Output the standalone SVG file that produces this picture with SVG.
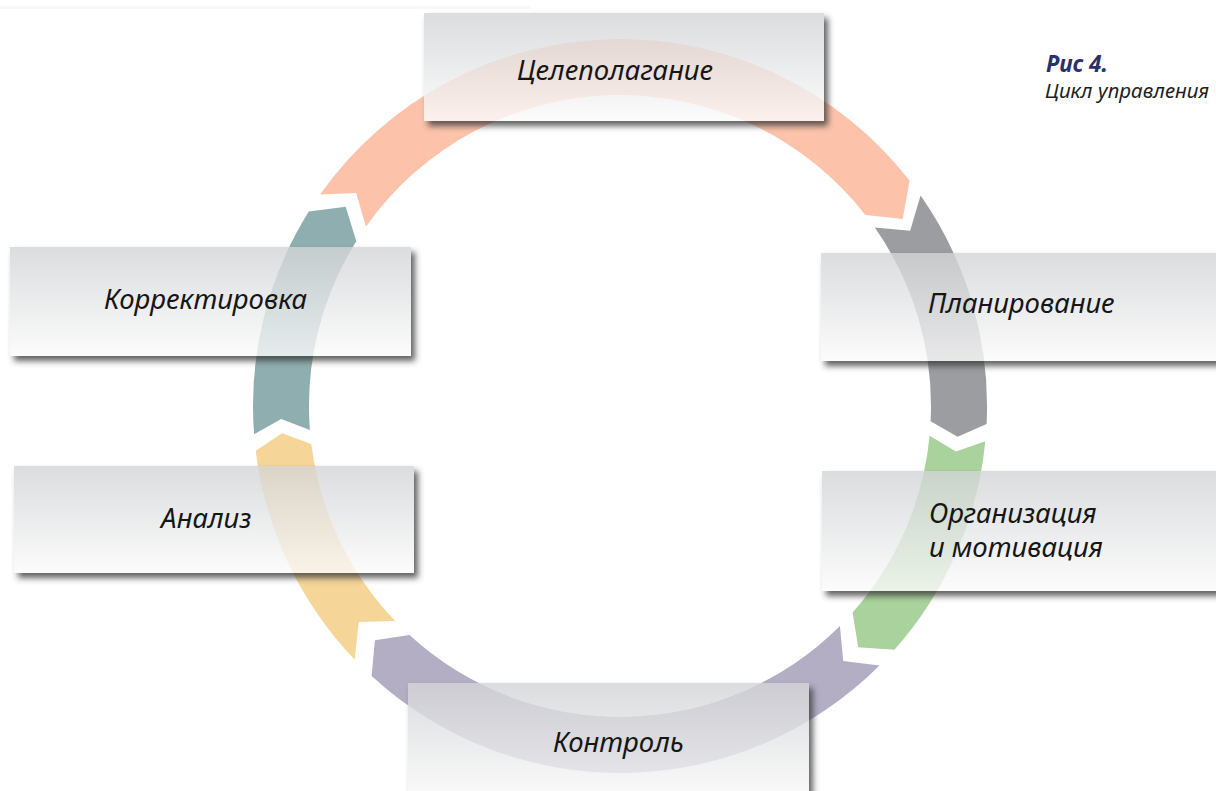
<svg xmlns="http://www.w3.org/2000/svg" width="1216" height="791" viewBox="0 0 1216 791">
  <defs>
    <linearGradient id="boxFill" x1="0" y1="0" x2="0" y2="1">
      <stop offset="0" stop-color="#D3D4D6"/>
      <stop offset="0.5" stop-color="#E6E7E8"/>
      <stop offset="1" stop-color="#FBFBFB"/>
    </linearGradient>
    <!-- shadow that stays outside the card so the translucent card is not darkened -->
    <filter id="outerShadow" x="-10%" y="-20%" width="120%" height="150%">
      <feGaussianBlur in="SourceAlpha" stdDeviation="3"/>
      <feOffset dx="4" dy="5" result="blur"/>
      <feFlood flood-color="#3a3a3a" flood-opacity="0.8"/>
      <feComposite in2="blur" operator="in" result="shadow"/>
      <feComposite in="shadow" in2="SourceAlpha" operator="out"/>
    </filter>
    <style>
      .seg { stroke: none; }
      .card { fill: url(#boxFill); fill-opacity: 0.8; }
      .cardShadow { fill: #000; filter: url(#outerShadow); }
      .label { font-family: "Noto Sans", "Open Sans", sans-serif; font-style: italic; font-size: 27.5px; fill: #161616; }
      .figNum { font-family: "Noto Sans", "Open Sans", sans-serif; font-style: italic; font-weight: bold; font-size: 22.5px; fill: #2D3068; }
      .figTitle { font-family: "Noto Sans", "Open Sans", sans-serif; font-style: italic; font-size: 20.5px; fill: #1e1e1e; }
    </style>
  </defs>

  <rect width="1216" height="791" fill="#FFFFFF"/>
  <rect x="0" y="6" width="530" height="3" fill="#EEEEEE" opacity="0.4"/>

  <!-- cycle ring: six arrow segments running clockwise -->
  <g id="connectors">
    <path id="arc-goal" class="seg" fill="#FCC3AA" d="M320.1,194.5 A367,367 0 0 1 909.6,180.6 L902.7,218.9 L865.4,215 A311,311 0 0 0 365.9,226.7 L356.2,193.1 Z"/>
    <path id="arc-plan" class="seg" fill="#9C9DA1" d="M920.6,195.5 A367,367 0 0 1 986.6,423.9 L957.6,436.7 L930.6,421.2 A311,311 0 0 0 874.8,227.6 L910.1,230.7 Z"/>
    <path id="arc-org" class="seg" fill="#A9D29C" d="M985.3,441.2 A367,367 0 0 1 894.4,649.7 L858.2,647.2 L852.6,612.5 A311,311 0 0 0 929.6,435.8 L955.9,451.4 Z"/>
    <path id="arc-control" class="seg" fill="#B3AEC4" d="M879.5,665.5 A367,367 0 0 1 371.6,676.1 L374.9,640.2 L409.5,634.9 A311,311 0 0 0 839.9,625.9 L843.3,661.1 Z"/>
    <path id="arc-analysis" class="seg" fill="#F6D698" d="M354.7,659.6 A367,367 0 0 1 255.7,450.7 L282.1,433.2 L311.3,443.9 A311,311 0 0 0 395.1,620.9 L358.8,622.1 Z"/>
    <path id="arc-correct" class="seg" fill="#8FAEAF" d="M254.1,434.2 A367,367 0 0 1 308.8,211.5 L345.7,206.7 L356.3,241.2 A311,311 0 0 0 309.9,429.9 L281.2,419 Z"/>
  </g>

  <!-- stage cards -->
  <g id="node-goal">
    <rect class="cardShadow" x="424" y="13" width="400" height="108"/>
    <rect class="card" x="424" y="13" width="400" height="108"/>
    <text class="label" x="517" y="80">Целеполагание</text>
  </g>

  <g id="node-plan">
    <rect class="cardShadow" x="821" y="253" width="400" height="108"/>
    <rect class="card" x="821" y="253" width="400" height="108"/>
    <text class="label" x="928" y="313">Планирование</text>
  </g>

  <g id="node-org">
    <rect class="cardShadow" x="822" y="471" width="400" height="120"/>
    <rect class="card" x="822" y="471" width="400" height="120"/>
    <text class="label" x="929" y="523">Организация</text>
    <text class="label" x="929" y="557">и мотивация</text>
  </g>

  <g id="node-control">
    <rect class="cardShadow" x="408" y="683" width="401" height="120"/>
    <rect class="card" x="408" y="683" width="401" height="120"/>
    <text class="label" x="553" y="752">Контроль</text>
  </g>

  <g id="node-analysis">
    <rect class="cardShadow" x="14" y="466" width="400" height="107"/>
    <rect class="card" x="14" y="466" width="400" height="107"/>
    <text class="label" x="161" y="528">Анализ</text>
  </g>

  <g id="node-correct">
    <rect class="cardShadow" x="10" y="247" width="401" height="109"/>
    <rect class="card" x="10" y="247" width="401" height="109"/>
    <text class="label" x="104" y="309">Корректировка</text>
  </g>

  <!-- figure caption -->
  <g id="caption">
    <text class="figNum" x="1046" y="72">Рис 4.</text>
    <text class="figTitle" x="1045" y="98">Цикл управления</text>
  </g>
</svg>
